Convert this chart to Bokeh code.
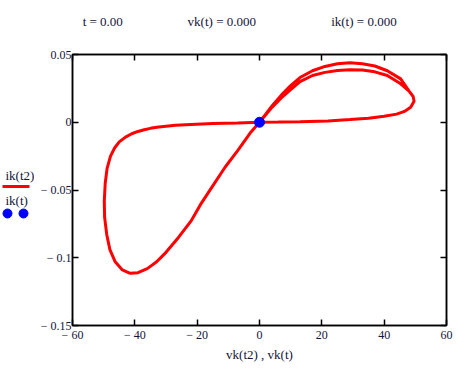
from bokeh.plotting import figure
from bokeh.models import LinearAxis, FixedTicker, Range1d
from bokeh.layouts import row
from bokeh.core.properties import value
from bokeh.embed import file_html
from bokeh.resources import INLINE

# ---- data ----
vk_t2 = [0, 6, 13, 22, 29, 35, 40, 44, 46.5, 48.5, 49.6, 49.3, 48, 45.3, 41, 37, 33, 29, 25, 21, 17, 13, 10, 7, 4, 2, 0,
         -3, -7, -11, -15, -19, -22, -26, -30, -33, -36, -39, -41.5, -44, -46.3, -48, -49, -49.7, -49.8, -49.5, -48.9,
         -47.8, -46.5, -45, -43, -41, -39, -37, -35, -33, -30, -27, -22, -15, -7, 0,
         6, 13, 22, 29, 35, 40, 44, 46.5, 48.5, 49.6, 49.3, 48, 45.3, 41, 37, 33, 29, 25, 21, 17, 13, 10, 7, 4, 2, 0,
         -3, -7, -11, -15, -19, -22, -26, -30, -33, -36, -39, -41.5, -44, -46.3, -48, -49, -49.7, -49.8, -49.5, -48.9,
         -47.8, -46.5, -45, -43, -41, -39, -37, -35, -33, -30, -27, -22, -15, -7, 0]
ik_t2 = [0, 0.0001, 0.0003, 0.001, 0.002, 0.003, 0.0044, 0.006, 0.008, 0.011, 0.0155, 0.019, 0.023, 0.032, 0.038, 0.0415,
         0.0432, 0.0439, 0.0432, 0.0412, 0.038, 0.033, 0.027, 0.020, 0.012, 0.006, 0,
         -0.008, -0.021, -0.033, -0.047, -0.061, -0.073, -0.085, -0.096, -0.103, -0.108, -0.111, -0.1115, -0.109,
         -0.103, -0.094, -0.083, -0.07, -0.058, -0.045, -0.034, -0.025, -0.019, -0.0145, -0.011, -0.0085, -0.0068,
         -0.0055, -0.0045, -0.0037, -0.0029, -0.0023, -0.0016, -0.001, -0.0005, 0,
         0.0001, 0.0003, 0.001, 0.002, 0.003, 0.0044, 0.006, 0.008, 0.011, 0.0155, 0.019, 0.023, 0.0284, 0.0345,
         0.0372, 0.0385, 0.0387, 0.0382, 0.0368, 0.0345, 0.030, 0.024, 0.018, 0.011, 0.0055, 0,
         -0.008, -0.021, -0.033, -0.047, -0.061, -0.073, -0.085, -0.096, -0.103, -0.108, -0.111, -0.1115, -0.109,
         -0.103, -0.094, -0.083, -0.07, -0.058, -0.045, -0.034, -0.025, -0.019, -0.0145, -0.011, -0.0085, -0.0068,
         -0.0055, -0.0045, -0.0037, -0.0029, -0.0023, -0.0016, -0.001, -0.0005, 0]
vk_t = [0.0]
ik_t = [0.0]

x_ticks = [-60, -40, -20, 0, 20, 40, 60]
x_labels = ["\u2212 60", "\u2212 40", "\u2212 20", "0", "20", "40", "60"]
y_ticks = [-0.15, -0.1, -0.05, 0, 0.05]
y_labels = ["\u2212 0.15", "\u2212 0.1", "\u2212 0.05", "0", "0.05"]
readout = ["t = 0.00", "vk(t) = 0.000", "ik(t) = 0.000"]
legend_labels = ["ik(t2)", "ik(t)"]

FONT = "Liberation Serif"
TXT = "#141438"
H = 372
LW = 34
FRAME_TOP, FRAME_BOTTOM = 54, 325
READOUT_AT = [-50.3, -12.1, 33.5]   # horizontal centres of the readout texts (x-axis units)

# ---------- legend strip on the left (pixel coordinates, frame aligned with the plot) ----------
lg = figure(width=LW, height=H, output_backend="svg", toolbar_location=None,
            x_range=Range1d(0, LW), y_range=Range1d(FRAME_BOTTOM, FRAME_TOP),
            min_border=0, x_axis_location=None, y_axis_location=None)
lg.xgrid.visible = False
lg.ygrid.visible = False
lg.outline_line_color = None
lg.border_fill_color = "white"
lg.text(x=[5, 5], y=[175, 200], text=legend_labels, text_font=value(FONT), text_font_size="13px",
        text_color=TXT, text_baseline="middle", text_align="left")
lg.line(x=[2, 29], y=[186, 186], line_color="#ff0000", line_width=3)
lg.scatter(x=[7, 23], y=[213, 213], size=9, fill_color="#0000ff", line_color="#0000ff")

# ---------- main plot ----------
p = figure(width=464 - LW, height=H, output_backend="svg", toolbar_location=None,
           x_range=Range1d(-60, 60), y_range=Range1d(-0.15, 0.05),
           min_border_left=72 - LW, min_border_right=18, min_border_top=FRAME_TOP,
           min_border_bottom=H - FRAME_BOTTOM,
           x_axis_location=None, y_axis_location=None)
p.xgrid.visible = False
p.ygrid.visible = False
p.outline_line_color = "black"
p.outline_line_width = 1.5
p.background_fill_color = "white"
p.border_fill_color = "white"

def style_axis(ax):
    ax.major_tick_in = 6
    ax.major_tick_out = 0
    ax.minor_tick_in = 0
    ax.minor_tick_out = 0
    ax.axis_line_color = "black"
    ax.axis_line_width = 1.5
    ax.major_tick_line_color = "black"
    ax.major_tick_line_width = 1.5
    ax.minor_tick_line_color = "black"
    ax.minor_tick_line_width = 1.5
    ax.major_label_text_font = FONT
    ax.major_label_text_font_size = "12px"
    ax.major_label_text_color = TXT
    ax.major_label_standoff = 2
    ax.axis_label_standoff = 0
    return ax

def make_axis(ticks, labels, show_labels):
    ax = style_axis(LinearAxis(ticker=FixedTicker(ticks=ticks)))
    ax.major_label_overrides = {t: l for t, l in zip(ticks, labels)}
    if not show_labels:
        ax.major_label_text_alpha = 0
        ax.major_label_text_font_size = "1px"
    return ax

bx = make_axis(x_ticks, x_labels, True)
bx.axis_label = "vk(t2) , vk(t)"
bx.axis_label_text_font = FONT
bx.axis_label_text_font_size = "13px"
bx.axis_label_text_font_style = "normal"
bx.axis_label_text_color = TXT
bx.axis_label_standoff = 2
p.add_layout(bx, "below")

ly = make_axis(y_ticks, y_labels, True)
ly.major_label_standoff = 1
p.add_layout(ly, "left")

# top axis: inward ticks at the x ticks (as minor ticks), readout texts as its labels
tx = style_axis(LinearAxis(ticker=FixedTicker(ticks=READOUT_AT, minor_ticks=x_ticks)))
tx.major_tick_in = 0
tx.minor_tick_in = 6
tx.major_label_overrides = {t: l for t, l in zip(READOUT_AT, readout)}
tx.major_label_text_font_size = "13px"
tx.major_label_standoff = 26
p.add_layout(tx, "above")

p.add_layout(make_axis(y_ticks, y_labels, False), "right")

p.line(vk_t2, ik_t2, line_color="#ff0000", line_width=3)
p.scatter(vk_t, ik_t, size=10, fill_color="#0000ff", line_color="#0000ff")

layout = row(lg, p, spacing=0)
open("out.html", "w").write(file_html(layout, INLINE))
